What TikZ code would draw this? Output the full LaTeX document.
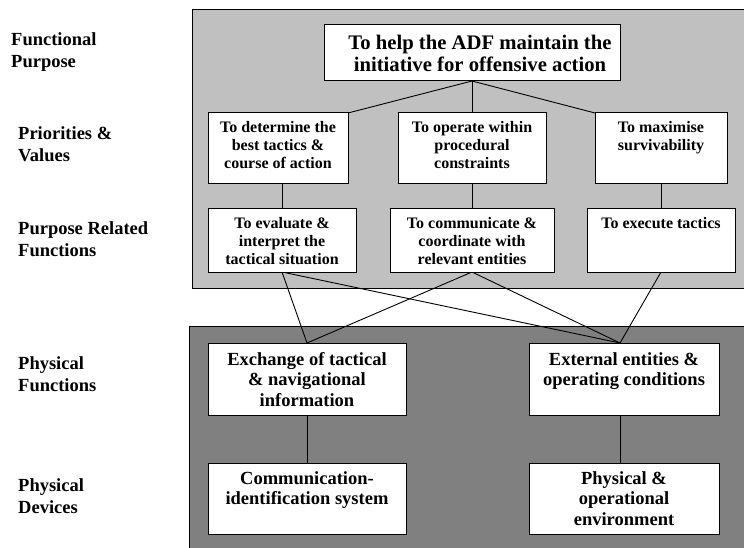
\documentclass[tikz,border=0pt]{standalone}
\usepackage{fontspec}
\setmainfont{Liberation Serif}
\begin{document}
\begin{tikzpicture}[x=1pt,y=-1pt,
  panel/.style={draw=black,line width=1pt},
  box/.style={draw=black,fill=white,line width=1pt,inner sep=0pt,outer sep=0pt,anchor=north west},
  conn/.style={draw=black,line width=0.9pt},
  lbl/.style={anchor=base west,inner sep=0pt,font=\bfseries\fontsize{18.5}{22}\selectfont},
  ttop/.style={anchor=base,inner sep=0pt,font=\bfseries\fontsize{20.7}{22.3}\selectfont},
  tmid/.style={anchor=base,inner sep=0pt,font=\bfseries\fontsize{16}{18}\selectfont},
  tlow/.style={anchor=base,inner sep=0pt,font=\bfseries\fontsize{18.5}{20.3}\selectfont}]
\useasboundingbox (0,0) rectangle (744,548);
\definecolor{lightpanel}{RGB}{192,192,192}
\definecolor{darkpanel}{RGB}{128,128,128}
% panels
\path[panel,fill=lightpanel] (192,9.5) rectangle (744.5,288);
\path[panel,fill=darkpanel] (189,326) rectangle (744.5,549);
% left labels
\node[lbl] (lfp) at (11,46) {\begin{tabular}[t]{@{}l@{}}Functional\\Purpose\end{tabular}};
\node[lbl] (lpv) at (18,140) {\begin{tabular}[t]{@{}l@{}}Priorities \&\\Values\end{tabular}};
\node[lbl] (lprf) at (18,234.3) {\begin{tabular}[t]{@{}l@{}}Purpose Related\\Functions\end{tabular}};
\node[lbl] (lpf) at (18,369.3) {\begin{tabular}[t]{@{}l@{}}Physical\\Functions\end{tabular}};
\node[lbl] (lpd) at (18,491) {\begin{tabular}[t]{@{}l@{}}Physical\\Devices\end{tabular}};
% box frames (positions)
\path (324,25) node[box,minimum width=296pt,minimum height=56pt] (T) {};
\path (208,113) node[box,minimum width=140pt,minimum height=71pt] (P1) {};
\path (398,113) node[box,minimum width=148pt,minimum height=71pt] (P2) {};
\path (595,113) node[box,minimum width=132pt,minimum height=71pt] (P3) {};
\path (208,209) node[box,minimum width=148pt,minimum height=63pt] (F1) {};
\path (390,209) node[box,minimum width=164pt,minimum height=63pt] (F2) {};
\path (587,209) node[box,minimum width=148pt,minimum height=63pt] (F3) {};
\path (208,343) node[box,minimum width=198pt,minimum height=72pt] (E1) {};
\path (529,343) node[box,minimum width=190pt,minimum height=72pt] (E2) {};
\path (208,463) node[box,minimum width=198pt,minimum height=71pt] (D1) {};
\path (529,463) node[box,minimum width=190pt,minimum height=71pt] (D2) {};
\coordinate (E2n) at ([xshift=-4pt]E2.north);
\coordinate (E2s) at ([xshift=-4pt]E2.south);
\coordinate (D2n) at ([xshift=-4pt]D2.north);
% connectors
\draw[conn] (T.south) -- (P1.north east);
\draw[conn] (T.south) -- (P2.north);
\draw[conn] (T.south) -- (P3.north west);
\draw[conn] (F1.north) -- (F1.north |- P1.south);
\draw[conn] (P2.south) -- (F2.north);
\draw[conn] (P3.south) -- (F3.north);
\draw[conn] (F1.south) -- (E1.north);
\draw[conn] (F1.south) -- (E2n);
\draw[conn] (F2.south) -- (E1.north);
\draw[conn] (F2.south) -- (E2n);
\draw[conn] (F3.south) -- (E2n);
\draw[conn] (E1.south) -- (D1.north);
\draw[conn] (E2s) -- (D2n);
% redraw boxes on top
\foreach \b in {T,P1,P2,P3,F1,F2,F3,E1,E2,D1,D2}{
  \draw[line width=1pt,fill=white] (\b.north west) rectangle (\b.south east);
}
% texts
\node[ttop] (Tt) at (480,49.3) {\begin{tabular}[t]{@{}c@{}}To help the ADF maintain the\\initiative for offensive action\end{tabular}};
\node[tmid] (P1t) at (278,132.7) {\begin{tabular}[t]{@{}c@{}}To determine the\\best tactics \&\\course of action\end{tabular}};
\node[tmid] (P2t) at (472,132.7) {\begin{tabular}[t]{@{}c@{}}To operate within\\procedural\\constraints\end{tabular}};
\node[tmid] (P3t) at (661,132.7) {\begin{tabular}[t]{@{}c@{}}To maximise\\survivability\end{tabular}};
\node[tmid] (F1t) at (282,228.3) {\begin{tabular}[t]{@{}c@{}}To evaluate \&\\interpret the\\tactical situation\end{tabular}};
\node[tmid] (F2t) at (472,228.3) {\begin{tabular}[t]{@{}c@{}}To communicate \&\\coordinate with\\relevant entities\end{tabular}};
\node[tmid] (F3t) at (661,228.3) {\begin{tabular}[t]{@{}c@{}}To execute tactics\end{tabular}};
\node[tlow] (E1t) at (307,365.5) {\begin{tabular}[t]{@{}c@{}}Exchange of tactical\\\& navigational\\information\end{tabular}};
\node[tlow] (E2t) at (624,365.5) {\begin{tabular}[t]{@{}c@{}}External entities \&\\operating conditions\end{tabular}};
\node[tlow] (D1t) at (307,484.5) {\begin{tabular}[t]{@{}c@{}}Communication-\\identification system\end{tabular}};
\node[tlow] (D2t) at (624,484.5) {\begin{tabular}[t]{@{}c@{}}Physical \&\\operational\\environment\end{tabular}};
\end{tikzpicture}
\end{document}
